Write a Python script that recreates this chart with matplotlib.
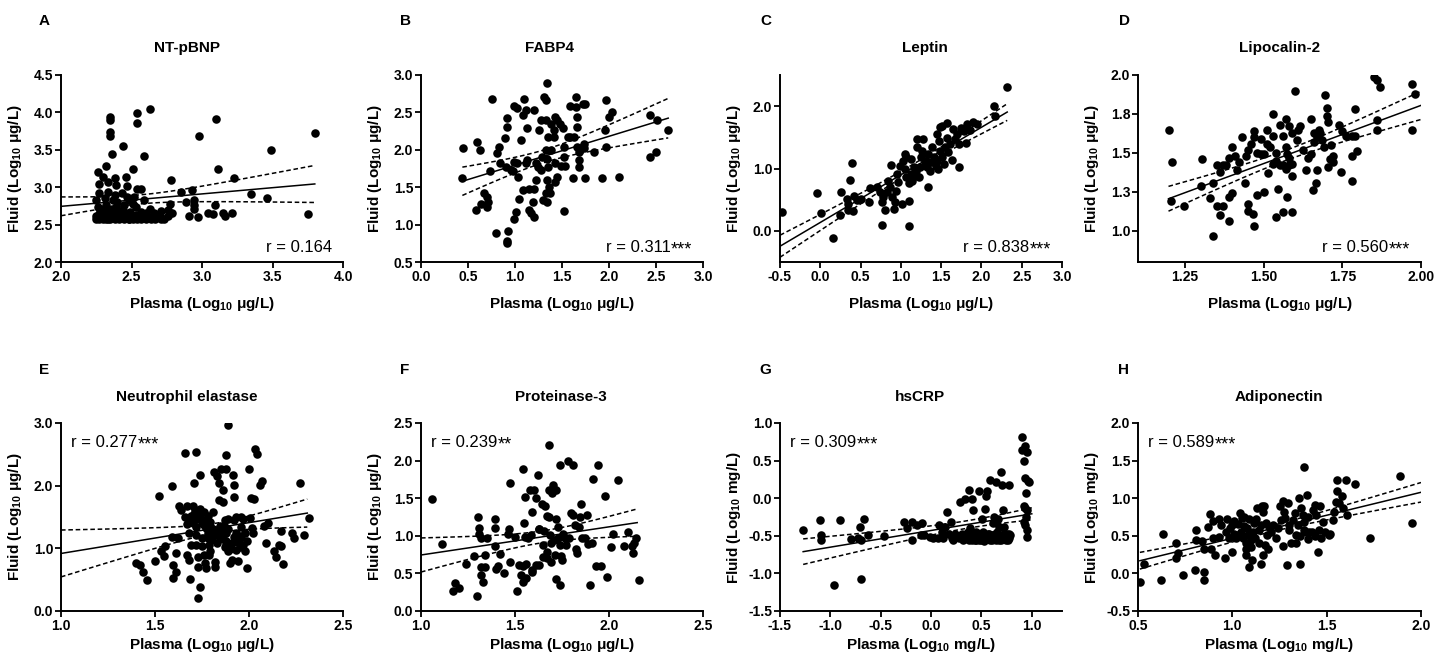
import numpy as np
import matplotlib.pyplot as plt

plt.rcParams['font.family'] = ['Liberation Sans', 'DejaVu Sans']
plt.rcParams['mathtext.fontset'] = 'custom'
plt.rcParams['mathtext.rm'] = 'Liberation Sans'
plt.rcParams['mathtext.bf'] = 'Liberation Sans:bold'
plt.rcParams['mathtext.it'] = 'Liberation Sans:italic'

# ---- data (plasma, fluid), log10 units ----
ntpbnp = [(2.26, 3.20), (2.27, 3.04), (2.30, 3.14), (2.32, 3.29), (2.35, 3.94), (2.35, 3.90), (2.35, 3.74),
          (2.35, 3.68), (2.36, 3.44), (2.33, 3.07), (2.38, 3.12), (2.39, 3.03), (2.44, 3.55), (2.46, 3.14),
          (2.47, 3.01), (2.51, 3.24), (2.54, 3.99), (2.54, 3.86), (2.63, 4.04), (2.54, 2.98), (2.57, 2.97),
          (2.59, 3.42), (2.59, 2.83), (2.78, 3.09), (2.79, 2.65), (2.85, 2.94), (2.89, 2.80), (2.93, 2.96),
          (2.94, 2.83), (2.94, 2.76), (2.94, 2.71), (2.97, 2.60), (2.91, 2.61), (2.98, 3.68), (3.10, 3.91),
          (3.11, 3.24), (3.09, 2.76), (3.04, 2.65), (3.08, 2.64), (3.15, 2.65), (3.16, 2.62), (3.21, 2.66),
          (3.23, 3.12), (3.35, 2.91), (3.46, 2.85), (3.49, 3.50), (3.75, 2.64), (3.80, 3.72),
          (2.25, 2.58), (2.27, 2.58), (2.30, 2.58), (2.33, 2.58), (2.35, 2.58), (2.38, 2.58), (2.41, 2.58),
          (2.45, 2.58), (2.48, 2.58), (2.51, 2.58), (2.54, 2.58), (2.57, 2.58), (2.60, 2.58), (2.64, 2.58),
          (2.67, 2.58), (2.71, 2.58), (2.73, 2.58), (2.28, 2.62), (2.34, 2.62), (2.40, 2.62), (2.47, 2.62),
          (2.52, 2.62), (2.61, 2.62), (2.66, 2.62), (2.70, 2.62), (2.76, 2.62),
          (2.25, 2.83), (2.26, 2.74), (2.27, 2.92), (2.28, 2.69), (2.31, 2.85), (2.32, 2.76), (2.33, 2.94),
          (2.34, 2.65), (2.37, 2.83), (2.38, 2.89), (2.39, 2.74), (2.40, 2.80), (2.41, 2.65), (2.43, 2.92),
          (2.44, 2.69), (2.45, 2.76), (2.47, 2.87), (2.48, 2.83), (2.51, 2.78), (2.52, 2.87), (2.53, 2.74),
          (2.57, 2.67), (2.60, 2.65), (2.63, 2.71), (2.66, 2.65), (2.71, 2.68), (2.76, 2.70), (2.77, 2.77),
          (2.26, 2.60), (2.29, 2.63), (2.31, 2.60), (2.32, 2.66), (2.34, 2.60), (2.36, 2.64), (2.37, 2.59),
          (2.39, 2.61), (2.42, 2.63), (2.43, 2.60), (2.44, 2.66), (2.46, 2.59), (2.49, 2.62), (2.50, 2.60),
          (2.53, 2.63), (2.55, 2.60), (2.29, 2.70), (2.36, 2.71), (2.42, 2.68), (2.49, 2.67),
          (2.25, 2.61), (2.27, 2.64), (2.30, 2.66), (2.32, 2.58), (2.35, 2.62), (2.38, 2.65), (2.40, 2.59),
          (2.43, 2.63), (2.46, 2.61), (2.48, 2.58), (2.31, 2.72), (2.37, 2.68)]

fabp4 = [(0.45, 2.02), (0.44, 1.62), (0.60, 2.11), (0.63, 2.00), (0.58, 1.20), (0.64, 1.28), (0.67, 1.42),
         (0.70, 1.37), (0.71, 1.30), (0.70, 1.24), (0.73, 1.71), (0.76, 2.68), (0.80, 0.89), (0.81, 1.96),
         (0.83, 2.04), (0.84, 1.83), (0.89, 2.16), (0.91, 2.30), (0.92, 2.42), (0.93, 0.92), (0.92, 0.78),
         (0.91, 0.76), (0.90, 1.77), (0.96, 1.73), (0.99, 1.84), (0.98, 1.71), (0.99, 2.58), (1.02, 2.56),
         (0.99, 1.08), (1.01, 1.17), (1.03, 1.64), (1.02, 1.82), (1.04, 1.34), (1.06, 2.13), (1.10, 2.68),
         (1.12, 2.53), (1.09, 2.46), (1.09, 1.46), (1.12, 1.82), (1.13, 1.86), (1.13, 2.29), (1.15, 1.19),
         (1.17, 1.15), (1.20, 1.10), (1.19, 1.30), (1.20, 1.48), (1.15, 1.48), (1.20, 2.53), (1.22, 1.59),
         (1.22, 1.82), (1.26, 2.26), (1.28, 2.40), (1.24, 1.77), (1.28, 1.73), (1.29, 1.91), (1.30, 1.33),
         (1.31, 2.71), (1.33, 2.66), (1.34, 2.89), (1.33, 2.40), (1.35, 2.17), (1.33, 2.00), (1.34, 1.88),
         (1.35, 1.77), (1.34, 1.59), (1.33, 1.42), (1.34, 1.30), (1.36, 1.50), (1.37, 1.42), (1.38, 2.00),
         (1.38, 2.35), (1.42, 2.26), (1.43, 2.44), (1.43, 1.82), (1.45, 1.64), (1.43, 1.57), (1.45, 2.40),
         (1.48, 2.35), (1.51, 2.29), (1.52, 2.04), (1.52, 1.91), (1.53, 1.79), (1.52, 1.18), (1.56, 2.17),
         (1.59, 2.17), (1.59, 2.58), (1.62, 1.62), (1.63, 2.17), (1.65, 2.71), (1.65, 2.57), (1.66, 2.44),
         (1.66, 2.31), (1.66, 2.04), (1.68, 1.97), (1.68, 1.86), (1.68, 1.77), (1.72, 2.61), (1.74, 2.61),
         (1.73, 2.08), (1.73, 2.02), (1.74, 1.62), (1.84, 1.97), (1.93, 1.62), (1.97, 2.67), (1.97, 2.04),
         (1.96, 2.26), (2.00, 2.44), (2.03, 2.50), (2.11, 1.64), (2.44, 2.46), (2.44, 1.91), (2.50, 1.97),
         (2.51, 2.40), (2.63, 2.27), (1.42, 2.17), (1.49, 1.79)]

leptin = [(-0.47, 0.30), (-0.04, 0.60), (0.01, 0.29), (0.16, -0.11), (0.25, 0.26), (0.26, 0.63), (0.33, 0.51),
          (0.34, 0.43), (0.35, 0.34), (0.37, 0.81), (0.39, 1.09), (0.40, 0.32), (0.42, 0.56), (0.45, 0.49),
          (0.51, 0.51), (0.60, 0.47), (0.62, 0.68), (0.70, 0.70), (0.74, 0.63), (0.76, 0.47), (0.76, 0.09),
          (0.78, 0.54), (0.80, 0.34), (0.83, 0.62), (0.84, 0.80), (0.87, 0.70), (0.89, 0.54), (0.88, 1.05),
          (0.91, 0.35), (0.93, 0.46), (0.94, 0.64), (0.95, 0.91), (0.97, 0.78), (1.01, 0.43), (0.99, 1.04),
          (1.03, 1.12), (1.05, 1.23), (1.05, 0.99), (1.07, 0.86), (1.06, 1.19), (1.10, 0.07), (1.10, 0.48),
          (1.10, 0.76), (1.12, 0.91), (1.13, 1.15), (1.14, 0.80), (1.16, 1.02), (1.18, 0.88), (1.19, 0.96),
          (1.20, 1.34), (1.22, 0.86), (1.24, 1.02), (1.25, 1.18), (1.20, 1.48), (1.28, 1.48), (1.26, 1.28),
          (1.30, 1.12), (1.32, 1.02), (1.34, 1.23), (1.34, 0.71), (1.36, 0.96), (1.38, 1.10), (1.39, 1.34),
          (1.41, 1.18), (1.43, 1.04), (1.45, 1.12), (1.46, 0.99), (1.45, 1.55), (1.47, 1.44), (1.48, 1.66),
          (1.51, 1.68), (1.49, 1.28), (1.51, 1.18), (1.53, 1.07), (1.55, 1.34), (1.57, 1.73), (1.57, 1.49),
          (1.59, 1.26), (1.61, 1.39), (1.63, 1.13), (1.65, 1.63), (1.67, 1.47), (1.70, 1.55), (1.72, 1.39),
          (1.72, 1.03), (1.75, 1.65), (1.78, 1.60), (1.81, 1.41), (1.82, 1.71), (1.86, 1.61), (1.89, 1.75),
          (1.94, 1.72), (2.16, 2.00), (2.17, 1.85), (2.32, 2.31)]

lipocalin2 = [(1.197, 1.65), (1.207, 1.44), (1.205, 1.19), (1.247, 1.16), (1.30, 1.29), (1.305, 1.46),
              (1.33, 1.21), (1.34, 1.31), (1.34, 0.97), (1.35, 1.42), (1.35, 1.16), (1.36, 1.38), (1.36, 1.10),
              (1.37, 1.42), (1.37, 1.16), (1.38, 1.42), (1.39, 1.47), (1.39, 1.06), (1.39, 1.22), (1.40, 1.24),
              (1.40, 1.54), (1.41, 1.48), (1.415, 1.39), (1.42, 1.44), (1.43, 1.60), (1.44, 1.31), (1.445, 1.48),
              (1.45, 1.17), (1.45, 1.13), (1.45, 1.52), (1.46, 1.56), (1.465, 1.11), (1.47, 1.03), (1.47, 1.64),
              (1.47, 1.60), (1.48, 1.50), (1.48, 1.23), (1.49, 1.59), (1.49, 1.49), (1.50, 1.49), (1.50, 1.25),
              (1.51, 1.65), (1.51, 1.56), (1.515, 1.37), (1.52, 1.54), (1.53, 1.61), (1.53, 1.75), (1.53, 1.43),
              (1.54, 1.50), (1.54, 1.45), (1.545, 1.27), (1.54, 1.09), (1.55, 1.68), (1.55, 1.42), (1.56, 1.61),
              (1.56, 1.42), (1.56, 1.12), (1.57, 1.72), (1.57, 1.54), (1.57, 1.40), (1.575, 1.22), (1.575, 1.49),
              (1.58, 1.67), (1.58, 1.47), (1.58, 1.42), (1.59, 1.12), (1.59, 1.35), (1.59, 1.43), (1.60, 1.90),
              (1.59, 1.63), (1.605, 1.58), (1.61, 1.65), (1.615, 1.67), (1.625, 1.52), (1.635, 1.39), (1.64, 1.47),
              (1.65, 1.72), (1.65, 1.49), (1.655, 1.26), (1.66, 1.63), (1.66, 1.57), (1.665, 1.31), (1.67, 1.39),
              (1.67, 1.60), (1.675, 1.65), (1.68, 1.63), (1.685, 1.58), (1.69, 1.54), (1.695, 1.87), (1.70, 1.74),
              (1.70, 1.79), (1.705, 1.70), (1.705, 1.41), (1.71, 1.46), (1.715, 1.55), (1.72, 1.48), (1.72, 1.44),
              (1.74, 1.68), (1.745, 1.38), (1.75, 1.64), (1.76, 1.61), (1.78, 1.61), (1.78, 1.32), (1.78, 1.48),
              (1.79, 1.78), (1.795, 1.51), (1.79, 1.61), (1.85, 1.99), (1.86, 1.97), (1.87, 1.92), (1.86, 1.71),
              (1.86, 1.65), (1.97, 1.94), (1.98, 1.88), (1.97, 1.65)]

elastase = [(1.40, 0.76), (1.42, 0.74), (1.435, 0.62), (1.46, 0.50), (1.50, 0.80), (1.52, 1.84), (1.53, 0.96),
            (1.555, 1.03), (1.55, 0.88), (1.59, 1.99), (1.59, 1.18), (1.595, 0.73), (1.595, 0.53), (1.61, 0.62),
            (1.61, 0.93), (1.62, 1.17), (1.625, 1.67), (1.64, 1.61), (1.66, 2.52), (1.67, 1.39), (1.67, 0.89),
            (1.67, 1.67), (1.68, 1.24), (1.68, 0.81), (1.685, 0.51), (1.69, 1.05), (1.70, 1.67), (1.71, 2.05),
            (1.72, 2.53), (1.715, 1.61), (1.72, 1.47), (1.72, 1.34), (1.72, 1.21), (1.72, 1.05), (1.73, 0.86),
            (1.73, 0.70), (1.74, 0.38), (1.73, 0.20), (1.74, 2.17), (1.75, 1.40), (1.75, 1.16), (1.75, 1.03),
            (1.76, 0.89), (1.765, 0.76), (1.77, 0.68), (1.77, 1.33), (1.78, 1.16), (1.785, 1.05), (1.785, 0.89),
            (1.79, 1.36), (1.79, 0.95), (1.80, 1.13), (1.81, 1.58), (1.81, 1.31), (1.815, 2.22), (1.82, 0.78),
            (1.82, 0.70), (1.83, 2.16), (1.83, 1.21), (1.83, 1.08), (1.84, 2.04), (1.84, 1.77), (1.845, 1.36),
            (1.85, 2.27), (1.85, 1.16), (1.86, 1.93), (1.86, 1.74), (1.87, 1.45), (1.875, 1.24), (1.88, 2.27),
            (1.88, 2.49), (1.89, 2.97), (1.89, 1.31), (1.89, 1.47), (1.90, 0.99), (1.90, 0.76), (1.91, 0.81),
            (1.915, 2.17), (1.92, 2.01), (1.92, 1.82), (1.92, 1.45), (1.93, 1.50), (1.94, 0.79), (1.95, 1.16),
            (1.955, 1.50), (1.96, 1.34), (1.97, 1.47), (1.98, 1.24), (1.99, 0.68), (2.00, 2.27), (2.005, 1.49),
            (2.01, 1.81), (2.015, 1.33), (2.02, 1.24), (2.025, 1.78), (2.03, 2.59), (2.045, 2.51), (2.06, 2.01),
            (2.07, 2.07), (2.08, 1.35), (2.09, 1.08), (2.10, 1.41), (2.135, 0.95), (2.145, 0.86), (2.16, 1.05),
            (2.17, 1.27), (2.17, 1.03), (2.18, 0.75), (2.23, 1.24), (2.24, 1.16), (2.27, 2.04), (2.29, 1.21),
            (2.32, 1.49),
            (1.87, 1.02), (1.88, 1.12), (1.89, 0.95), (1.91, 1.08), (1.92, 1.18), (1.93, 0.98), (1.94, 1.10),
            (1.95, 1.02), (1.96, 1.20), (1.97, 1.06), (1.98, 0.96), (1.86, 1.15), (1.88, 1.05), (1.93, 1.24),
            (1.99, 1.12), (1.68, 1.45), (1.69, 1.52), (1.70, 1.40), (1.71, 1.55), (1.72, 1.60), (1.73, 1.48),
            (1.74, 1.52), (1.75, 1.44), (1.76, 1.58), (1.77, 1.46), (1.78, 1.52), (1.79, 1.42), (1.66, 1.50),
            (1.74, 1.62), (1.76, 1.38), (1.78, 1.25), (1.79, 1.18), (1.80, 1.28), (1.81, 1.20), (1.82, 1.30),
            (1.83, 1.26), (1.84, 1.20), (1.85, 1.32), (1.86, 1.28), (1.87, 1.34)]

proteinase3 = [(1.06, 1.49), (1.11, 0.89), (1.18, 0.37), (1.17, 0.27), (1.20, 0.30), (1.24, 0.62), (1.28, 0.73),
               (1.30, 0.20), (1.305, 1.25), (1.31, 1.10), (1.31, 1.03), (1.32, 0.97), (1.32, 0.48), (1.32, 0.58),
               (1.33, 0.38), (1.34, 0.74), (1.34, 0.59), (1.35, 0.97), (1.395, 1.22), (1.395, 1.10), (1.395, 0.87),
               (1.40, 0.56), (1.41, 0.60), (1.42, 0.76), (1.44, 0.51), (1.465, 1.02), (1.47, 1.09), (1.475, 1.70),
               (1.475, 0.65), (1.50, 0.99), (1.51, 0.27), (1.52, 0.61), (1.53, 0.48), (1.54, 1.89), (1.54, 0.60),
               (1.545, 0.38), (1.55, 1.17), (1.555, 1.51), (1.555, 0.98), (1.56, 0.62), (1.56, 0.44), (1.57, 0.97),
               (1.58, 1.61), (1.585, 1.01), (1.59, 0.54), (1.59, 1.32), (1.59, 0.52), (1.60, 1.61), (1.61, 1.50),
               (1.61, 0.61), (1.62, 1.81), (1.625, 1.09), (1.63, 0.61), (1.63, 1.09), (1.645, 1.42), (1.65, 0.72),
               (1.65, 0.88), (1.655, 1.06), (1.66, 1.40), (1.67, 1.26), (1.67, 0.79), (1.67, 0.70), (1.68, 1.61),
               (1.68, 2.21), (1.68, 1.25), (1.685, 1.01), (1.69, 0.65), (1.69, 0.90), (1.695, 1.57), (1.70, 1.68),
               (1.705, 0.94), (1.715, 0.74), (1.72, 1.61), (1.72, 0.42), (1.72, 1.23), (1.73, 1.12), (1.73, 0.97),
               (1.74, 0.88), (1.74, 1.94), (1.74, 0.34), (1.745, 0.73), (1.75, 0.68), (1.755, 1.03), (1.765, 0.97),
               (1.77, 0.88), (1.78, 1.99), (1.785, 0.97), (1.80, 1.30), (1.81, 1.94), (1.81, 1.28), (1.82, 1.14),
               (1.825, 0.83), (1.83, 0.77), (1.84, 1.12), (1.845, 1.25), (1.85, 1.42), (1.855, 0.97), (1.87, 0.97),
               (1.885, 1.28), (1.89, 0.89), (1.90, 0.35), (1.91, 0.91), (1.915, 1.76), (1.93, 0.60), (1.94, 1.94),
               (1.955, 0.60), (1.98, 1.53), (1.99, 0.45), (2.01, 0.85), (2.02, 1.02), (2.05, 1.74), (2.08, 0.86),
               (2.10, 1.05), (2.12, 0.86), (2.13, 0.77), (2.135, 0.91), (2.145, 0.97), (2.16, 0.41)]

hscrp = [(-1.27, -0.42), (-1.10, -0.29), (-1.09, -0.49), (-1.09, -0.56), (-0.96, -1.15), (-0.90, -0.29),
         (-0.80, -0.54), (-0.71, -0.38), (-0.70, -1.07), (-0.73, -0.53), (-0.70, -0.56), (-0.67, -0.27),
         (-0.63, -0.49), (-0.47, -0.50), (-0.27, -0.31), (-0.24, -0.39), (-0.19, -0.31), (-0.19, -0.56),
         (-0.14, -0.35), (-0.09, -0.33), (-0.10, -0.49), (-0.07, -0.49), (-0.01, -0.51), (0.02, -0.53),
         (0.08, -0.35), (0.11, -0.45), (0.12, -0.53), (0.14, -0.38), (0.16, -0.18), (0.18, -0.47), (0.20, -0.31),
         (0.21, -0.53), (0.24, -0.47), (0.28, -0.53), (0.29, -0.05), (0.31, -0.47), (0.34, -0.01), (0.36, -0.53),
         (0.38, 0.11), (0.39, -0.40), (0.40, -0.49), (0.41, -0.01), (0.42, -0.16), (0.43, -0.53), (0.45, -0.45),
         (0.47, -0.49), (0.48, 0.09), (0.49, -0.53), (0.505, -0.27), (0.52, -0.45), (0.54, -0.53), (0.55, 0.03),
         (0.56, 0.09), (0.54, -0.14), (0.57, -0.47), (0.59, 0.24), (0.60, -0.49), (0.61, -0.33), (0.62, -0.25),
         (0.63, -0.53), (0.64, 0.22), (0.655, -0.45), (0.66, -0.27), (0.67, -0.38), (0.69, 0.35), (0.70, 0.18),
         (0.70, -0.49), (0.71, -0.16), (0.72, -0.38), (0.735, -0.53), (0.75, -0.48), (0.77, 0.17), (0.775, -0.47),
         (0.90, 0.81), (0.90, 0.64), (0.92, 0.50), (0.935, 0.69), (0.95, 0.62), (0.935, 0.27), (0.96, 0.23),
         (0.94, 0.07), (0.92, -0.11), (0.93, -0.13), (0.94, -0.25), (0.935, -0.36), (0.95, -0.42), (0.955, -0.52),
         (0.97, 0.21), (0.955, -0.16), (0.92, -0.31),
         (0.07, -0.53), (0.22, -0.56), (0.26, -0.50), (0.32, -0.56), (0.37, -0.45), (0.41, -0.56), (0.45, -0.56),
         (0.50, -0.56), (0.55, -0.49), (0.59, -0.56), (0.63, -0.48), (0.67, -0.56), (0.72, -0.47), (0.76, -0.56),
         (0.30, -0.50), (0.33, -0.54), (0.35, -0.48), (0.38, -0.56), (0.40, -0.52), (0.42, -0.48), (0.44, -0.55),
         (0.46, -0.51), (0.48, -0.56), (0.50, -0.48), (0.52, -0.53), (0.53, -0.57), (0.56, -0.51), (0.58, -0.47),
         (0.60, -0.55), (0.62, -0.51), (0.64, -0.56), (0.65, -0.49), (0.66, -0.53), (0.68, -0.50), (0.69, -0.56),
         (0.71, -0.52), (0.73, -0.49), (0.74, -0.55), (0.76, -0.50), (0.77, -0.53), (0.78, -0.49), (0.57, -0.53)]

adiponectin = [(0.51, -0.11), (0.53, 0.12), (0.62, -0.09), (0.63, 0.53), (0.70, 0.41), (0.71, 0.27), (0.70, 0.20),
               (0.74, -0.02), (0.80, 0.04), (0.81, 0.58), (0.81, 0.44), (0.84, 0.43), (0.85, 0.33), (0.85, 0.02),
               (0.85, -0.09), (0.88, 0.79), (0.885, 0.32), (0.90, 0.47), (0.91, 0.25), (0.93, 0.73), (0.93, 0.49),
               (0.96, 0.21), (0.965, 0.55), (0.98, 0.47), (0.997, 0.29), (1.00, 0.65), (1.01, 0.53), (1.02, 0.47),
               (1.03, 0.51), (1.04, 0.80), (1.045, 0.55), (1.055, 0.47), (1.06, 0.75), (1.06, 0.63), (1.07, 0.33),
               (1.07, 0.40), (1.075, 0.25), (1.08, 0.60), (1.085, 0.51), (1.09, 0.73), (1.09, 0.09), (1.10, 0.44),
               (1.10, 0.35), (1.105, 0.18), (1.11, 0.55), (1.115, 0.67), (1.12, 0.47), (1.125, 0.73), (1.13, 0.87),
               (1.14, 0.58), (1.14, 0.40), (1.15, 0.12), (1.15, 0.64), (1.155, 0.89), (1.16, 0.82), (1.165, 0.24),
               (1.17, 0.89), (1.175, 0.38), (1.18, 0.67), (1.185, 0.51), (1.19, 0.33), (1.195, 0.62), (1.205, 0.55),
               (1.215, 0.65), (1.23, 0.47), (1.24, 0.60), (1.25, 0.89), (1.26, 0.71), (1.27, 0.96), (1.27, 0.36),
               (1.275, 0.82), (1.28, 0.74), (1.29, 0.11), (1.295, 0.93), (1.30, 0.65), (1.30, 0.58), (1.31, 0.40),
               (1.32, 0.71), (1.33, 0.80), (1.335, 0.51), (1.34, 0.40), (1.35, 0.64), (1.355, 1.00), (1.36, 0.13),
               (1.365, 0.87), (1.375, 0.77), (1.38, 1.41), (1.38, 0.69), (1.39, 0.55), (1.395, 1.04), (1.40, 0.75),
               (1.405, 0.55), (1.43, 0.84), (1.44, 0.91), (1.445, 0.78), (1.455, 0.29), (1.465, 0.89), (1.48, 0.69),
               (1.51, 0.51), (1.52, 0.53), (1.535, 0.71), (1.54, 0.81), (1.55, 0.95), (1.555, 1.24), (1.555, 1.09),
               (1.565, 0.93), (1.58, 1.03), (1.585, 0.87), (1.605, 1.24), (1.61, 0.78), (1.65, 1.19), (1.73, 0.47),
               (1.89, 1.30), (1.95, 0.67),
               (1.36, 0.50), (1.38, 0.58), (1.40, 0.46), (1.42, 0.55), (1.44, 0.50), (1.46, 0.58), (1.47, 0.47),
               (1.49, 0.55), (0.87, 0.62), (0.90, 0.70), (0.94, 0.64), (0.97, 0.72), (0.99, 0.61), (1.01, 0.70),
               (1.03, 0.66), (1.05, 0.74)]

datasets = [ntpbnp, fabp4, leptin, lipocalin2, elastase, proteinase3, hscrp, adiponectin]
titles = ['NT-pBNP', 'FABP4', 'Leptin', 'Lipocalin-2', 'Neutrophil elastase', 'Proteinase-3', 'hsCRP', 'Adiponectin']
letters = ['A', 'B', 'C', 'D', 'E', 'F', 'G', 'H']
r_values = ['0.164', '0.311', '0.838', '0.560', '0.277', '0.239', '0.309', '0.589']
r_stars = ['', '***', '***', '***', '***', '**', '***', '***']
units = ['μg/L', 'μg/L', 'μg/L', 'μg/L', 'μg/L', 'μg/L', 'mg/L', 'mg/L']
fit_range = [(2.0, 3.80), (0.44, 2.63), (-0.5, 2.32), (1.197, 2.0), (1.0, 2.31), (1.0, 2.15), (-1.27, 1.0), (0.51, 2.0)]

# axis settings
xlims = [(2.0, 4.0), (0.0, 3.0), (-0.5, 3.0), (1.1, 2.0), (1.0, 2.5), (1.0, 2.5), (-1.5, 1.3), (0.5, 2.0)]
ylims = [(2.0, 4.5), (0.5, 3.0), (-0.5, 2.5), (0.8, 2.0), (0.0, 3.0), (0.0, 2.5), (-1.5, 1.0), (-0.5, 2.0)]
xticks = [np.arange(2.0, 4.01, 0.5), np.arange(0.0, 3.01, 0.5), np.arange(-0.5, 3.01, 0.5),
          [1.25, 1.5, 1.75, 2.0], np.arange(1.0, 2.51, 0.5), np.arange(1.0, 2.51, 0.5),
          np.arange(-1.5, 1.01, 0.5), np.arange(0.5, 2.01, 0.5)]
yticks = [np.arange(2.0, 4.51, 0.5), np.arange(0.5, 3.01, 0.5), [0.0, 1.0, 2.0],
          [1.0, 1.25, 1.5, 1.75, 2.0], [0.0, 1.0, 2.0, 3.0], np.arange(0.0, 2.51, 0.5),
          np.arange(-1.5, 1.01, 0.5), np.arange(-0.5, 2.01, 0.5)]
d_xlabels = ['1.25', '1.50', '1.75', '2.00']
d_ylabels = ['1.0', '1.3', '1.5', '1.8', '2.0']

W, H = 1446, 655
lefts = [61, 421, 780, 1138]
widths = [282, 282, 282, 283]
tops = [75, 423]
bottoms = [262, 611]
title_cx = [187, 549, 925, 1280, 187, 561, 920, 1279]
title_base = [52, 401]
letter_x = [39, 400, 760, 1119, 39, 400, 759, 1118]
letter_base = [25, 374]

fig = plt.figure(figsize=(W / 100, H / 100), dpi=100)


def fit_band(x, y, xs):
    # least squares line with 95% confidence band
    n = len(x)
    xm, ym = x.mean(), y.mean()
    sxx = ((x - xm) ** 2).sum()
    b = ((x - xm) * (y - ym)).sum() / sxx
    a = ym - b * xm
    s = np.sqrt(((y - a - b * x) ** 2).sum() / (n - 2))
    yhat = a + b * xs
    se = s * np.sqrt(1 / n + (xs - xm) ** 2 / sxx)
    return yhat, yhat - 1.98 * se, yhat + 1.98 * se


for i, pts in enumerate(datasets):
    row, col = divmod(i, 4)
    rect = [lefts[col] / W, 1 - bottoms[row] / H, widths[col] / W, (bottoms[row] - tops[row]) / H]
    ax = fig.add_axes(rect)
    x, y = np.array(pts).T

    ax.scatter(x, y, s=38, color='black', linewidths=0, zorder=3)
    xs = np.linspace(fit_range[i][0], fit_range[i][1], 100)
    yhat, lo, hi = fit_band(x, y, xs)
    ax.plot(xs, yhat, color='black', lw=1.1, zorder=4)
    ax.plot(xs, lo, color='black', lw=1.1, dashes=(3, 1.8), zorder=4)
    ax.plot(xs, hi, color='black', lw=1.1, dashes=(3, 1.8), zorder=4)

    ax.set_xlim(*xlims[i])
    ax.set_ylim(*ylims[i])
    ax.set_xticks(xticks[i])
    ax.set_yticks(yticks[i])
    if i == 3:
        ax.set_xticklabels(d_xlabels)
        ax.set_yticklabels(d_ylabels)
    else:
        ax.set_xticklabels(['%.1f' % v for v in xticks[i]])
        ax.set_yticklabels(['%.1f' % v for v in yticks[i]])
    for lab in ax.get_xticklabels() + ax.get_yticklabels():
        lab.set_fontweight('bold')
    ax.tick_params(labelsize=10, width=1.3, length=4, pad=1.5, direction='out')
    for side in ['top', 'right']:
        ax.spines[side].set_visible(False)
    for side in ['left', 'bottom']:
        ax.spines[side].set_linewidth(1.4)

    unit = units[i]
    ax.set_xlabel(r'Plasma (Log$_{\mathbf{10}}$ ' + unit + ')', fontsize=11, fontweight='bold', va='baseline')
    ax.set_ylabel(r'Fluid (Log$_{\mathbf{10}}$ ' + unit + ')', fontsize=11, fontweight='bold')
    ax.xaxis.set_label_coords(0.5, -0.246 if row == 0 else -0.20)
    ax.yaxis.set_label_coords(-0.13, 0.5)

    if row == 0:
        rx = 0.96 if r_stars[i] == '' else 0.885
        t = ax.text(rx, 0.053, 'r = ' + r_values[i], transform=ax.transAxes, fontsize=12,
                    ha='right', va='baseline')
    else:
        t = ax.text(0.035, 0.87, 'r = ' + r_values[i], transform=ax.transAxes, fontsize=12,
                    ha='left', va='baseline')
    if r_stars[i]:
        ax.annotate(r_stars[i], xy=(1, 1), xycoords=t, xytext=(0.3, -1.0), textcoords='offset points',
                    fontsize=13, ha='left', va='top')

    fig.text(title_cx[i] / W, 1 - title_base[row] / H, titles[i], fontsize=11, fontweight='bold',
             ha='center', va='baseline')
    fig.text(letter_x[i] / W, 1 - letter_base[row] / H, letters[i], fontsize=11, fontweight='bold',
             ha='left', va='baseline')

fig.savefig('out.png', dpi=100)
